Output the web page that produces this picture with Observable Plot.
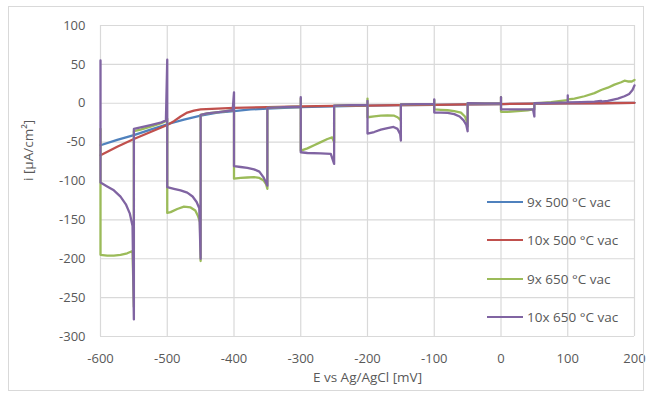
<!DOCTYPE html>
<html>
<head>
<meta charset="utf-8">
<script src="https://cdn.jsdelivr.net/npm/d3@7"></script>
<script src="https://cdn.jsdelivr.net/npm/@observablehq/plot@0.6"></script>
<style>
  html, body { margin: 0; padding: 0; background: #fff; }
  #wrap { position: relative; width: 652px; height: 396px; font-family: "Open Sans", sans-serif; }
  #border { position: absolute; left: 8px; top: 6px; width: 636px; height: 385px; border: 1px solid #D9D9D9; box-sizing: border-box; pointer-events: none; }
  .row { position: absolute; left: 487px; display: flex; align-items: center; height: 20px; }
  .sw { width: 36px; height: 2px; margin-right: 4px; }
  .lab { font-size: 13.5px; color: #595959; white-space: nowrap; line-height: 20px; }
</style>
</head>
<body>
<div id="wrap"><div id="border"></div></div>
<script>
const series = ["9x 500 °C vac", "10x 500 °C vac", "9x 650 °C vac", "10x 650 °C vac"];
const colors = ["#4F81BD", "#C0504D", "#9BBB59", "#8064A2"];
const xTicks = [-600, -500, -400, -300, -200, -100, 0, 100, 200];
const yTicks = [-300, -250, -200, -150, -100, -50, 0, 50, 100];

const eBlue = [-600,-575,-550,-525,-500,-475,-450,-425,-400,-375,-350,-300,-250,-200,-150,-100,-50,0,50,100,150,200];
const iBlue = [-54,-47,-41,-34,-27,-21,-16,-12,-10,-8,-7,-5,-4,-3,-2.5,-2,-1.5,-1,-0.5,0,0.3,0.5];

const eRed = [-600,-575,-550,-525,-500,-490,-480,-470,-460,-450,-425,-400,-350,-300,-250,-200,-150,-100,-50,0,50,100,150,200];
const iRed = [-67,-56,-46,-37,-28,-23,-17,-12,-9.5,-8,-7,-6,-5,-4,-3.5,-3,-2.5,-2,-1.5,-1,-0.5,0,0,0.5];

const eGreen = [
-600,-600,-590,-580,-570,-560,-552,-550,-550,
-540,-525,-510,-502,-500,-500,
-495,-485,-475,-465,-458,-454,-451,-450,-450,
-440,-420,-402,-400,-400,
-390,-380,-370,-362,-356,-352,-350,-350,
-325,-300,-300,-300,
-290,-280,-270,-260,-253,-250,-250,
-225,-200,-200,-200,
-190,-180,-170,-160,-155,-151,-150,-150,
-125,-100,-100,-100,
-90,-80,-70,-60,-54,-51,-50,-50,
-25,0,0,0,
10,25,40,48,50,50,
60,75,90,100,100,
110,125,140,150,160,170,180,185,190,196,200];
const iGreen = [
-33,-195,-196,-196,-195,-193,-190,-262,-36,
-34,-30,-26,-23,-20,-141,
-140,-136,-133,-134,-138,-145,-153,-203,-15,
-13,-11,-9,-8,-97,
-96,-95.5,-95,-96,-99,-104,-110,-6,
-5,-4.5,6,-61,
-58,-54,-50,-46,-44,-50,-3,
-2.5,-2,6,-18,
-17,-16,-15.5,-16,-18,-21,-23,-1.5,
-1.2,-1,4,-8,
-8.5,-9,-10,-12,-17,-24,-30,0,
-0.3,0,8,-11,
-11,-10,-9,-8,-8,0,
0.5,1.5,3,4,5,
6,9,13,17,20,24,27,29,28,28,30];

const ePurple = [
-600,-600,-600,-590,-580,-570,-562,-556,-552,-550,-550,
-540,-525,-510,-502,-500,-500,
-490,-480,-470,-462,-456,-452,-450,-450,
-440,-420,-402,-400,-400,
-390,-380,-370,-362,-356,-352,-350,-350,
-325,-300,-300,-300,
-290,-270,-255,-250,-250,
-225,-200,-200,-200,
-190,-180,-170,-161,-155,-151,-150,-150,
-125,-100,-100,-100,
-90,-80,-70,-62,-56,-52,-50,-50,
-25,0,0,0,
10,30,48,50,50,
75,100,100,100,
120,140,150,150,160,175,185,192,197,200];
const iPurple = [
-40,55,-102,-107,-112,-120,-130,-142,-158,-278,-33,
-31,-28,-25,-22,56,-108,
-110,-112,-115,-120,-127,-135,-200,-15,
-13,-11,-9,14,-81,
-82,-83,-85,-88,-95,-102,-106,-6,
-5,-4.5,8,-63,
-64,-64.5,-65,-78,-3,
-2.5,-2,3,-39,
-37,-34,-32,-30.5,-33,-40,-48,-1.5,
-1.2,-1,5,-12,
-12,-12.5,-14,-17,-22,-28,-36,0,
-0.3,0,8,-8,
-8,-8,-8,-17,0,
0.5,1,10,1,
1.5,2,3,2,3,6,9,12,17,23];

const eAll = [eBlue, eRed, eGreen, ePurple];
const iAll = [iBlue, iRed, iGreen, iPurple];
const rows = [];
series.forEach((s, k) => eAll[k].forEach((e, j) => rows.push({E: e, i: iAll[k][j], s})));

const fmt = d => String(d);
const chart = Plot.plot({
  width: 652, height: 396,
  marginLeft: 100, marginRight: 18, marginTop: 25, marginBottom: 60,
  style: {fontFamily: "Open Sans, sans-serif", fontSize: "13px", color: "#595959", background: "transparent", overflow: "visible"},
  x: {domain: [-600, 200], label: null},
  y: {domain: [-300, 100], label: null},
  color: {domain: series, range: colors},
  marks: [
    Plot.gridX(xTicks, {stroke: "#D9D9D9", strokeOpacity: 1, strokeWidth: 1.2}),
    Plot.gridY(yTicks, {stroke: "#D9D9D9", strokeOpacity: 1, strokeWidth: 1.2}),
    Plot.axisX(xTicks, {tickSize: 0, tickPadding: 17, fill: "#595959", label: null, fontSize: 13, tickFormat: fmt}),
    Plot.axisY(yTicks, {tickSize: 0, tickPadding: 15, fill: "#595959", label: null, fontSize: 13, tickFormat: fmt}),
    Plot.line(rows, {x: "E", y: "i", z: "s", stroke: "s", strokeWidth: 2.3, strokeLinejoin: "round"}),
    Plot.text(["E vs Ag/AgCl [mV]"], {frameAnchor: "bottom", dy: 45, fill: "#595959", fontSize: 13.5}),
    Plot.text(["i [µA/cm²]"], {frameAnchor: "left", dx: -72, rotate: -90, fill: "#595959", fontSize: 13.5})
  ]
});
const wrap = document.getElementById("wrap");
wrap.prepend(chart);

series.forEach((s, k) => {
  const r = document.createElement("div");
  r.className = "row";
  r.style.top = Math.round(202 + k * 38.4 - 10) + "px";
  r.innerHTML = `<div class="sw" style="background:${colors[k]}"></div><span class="lab">${s}</span>`;
  wrap.appendChild(r);
});
</script>
</body>
</html>
